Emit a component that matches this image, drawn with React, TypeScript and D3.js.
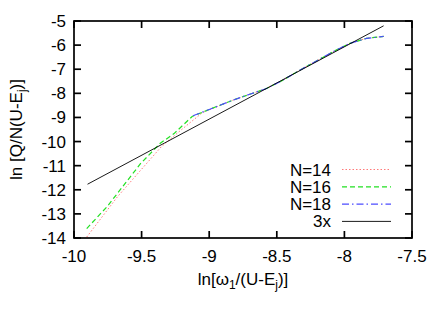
import * as d3 from "d3";

const WIDTH = 443;
const HEIGHT = 310;
const PLOT = { left: 74, right: 412, top: 21, bottom: 238 };

const X_TICKS = [-10, -9.5, -9, -8.5, -8, -7.5];
const Y_TICKS = [-14, -13, -12, -11, -10, -9, -8, -7, -6, -5];

// shared upper part (all sizes overlap there)
const upper: [number, number][] = [
  [-9.0, -8.67],
  [-8.823, -8.28],
  [-8.7, -8.04],
  [-8.576, -7.8],
  [-8.45, -7.44],
  [-8.33, -7.04],
  [-8.2, -6.64],
  [-8.083, -6.27],
  [-7.96, -5.93],
  [-7.837, -5.72],
  [-7.71, -5.64],
];

const n14: [number, number][] = [
  [-9.906, -13.96],
  [-9.68, -12.3],
  [-9.507, -11.19],
  [-9.355, -10.22],
  [-9.21, -9.53],
  [-9.05, -8.8],
  ...upper.slice(1),
];

const n16: [number, number][] = [
  [-9.906, -13.61],
  [-9.754, -12.69],
  [-9.507, -10.91],
  [-9.364, -10.08],
  [-9.26, -9.67],
  [-9.126, -8.96],
  ...upper,
];

const n18: [number, number][] = [[-9.12, -8.93], ...upper];

const fit3x: [number, number][] = [
  [-9.9, -11.77],
  [-7.71, -5.2],
];

const SERIES = [
  { label: "N=14", data: n14, color: "#ff7a7a", dash: "1.5,2", width: 1 },
  { label: "N=16", data: n16, color: "#22e022", dash: "5,3", width: 1.2 },
  { label: "N=18", data: n18, color: "#4c4cff", dash: "7,3,1.5,3", width: 1.2 },
  { label: "3x", data: fit3x, color: "#000000", dash: "", width: 0.9 },
];

const FONT = "'Liberation Sans', Arial, Helvetica, sans-serif";

export default function App() {
  const x = d3.scaleLinear().domain([-10, -7.5]).range([PLOT.left, PLOT.right]);
  const y = d3.scaleLinear().domain([-14, -5]).range([PLOT.bottom, PLOT.top]);
  const line = d3
    .line<[number, number]>()
    .x((d) => x(d[0]))
    .y((d) => y(d[1]));

  const tickLen = 7;

  return (
    <svg
      width={WIDTH}
      height={HEIGHT}
      style={{ position: "absolute", left: 0, top: 0, background: "#fff" }}
      fontFamily={FONT}
    >
      {/* series */}
      <g fill="none">
        {SERIES.map((s) => (
          <path
            key={s.label}
            d={line(s.data) ?? ""}
            stroke={s.color}
            strokeWidth={s.width}
            strokeDasharray={s.dash || undefined}
          />
        ))}
      </g>

      {/* frame and ticks */}
      <g stroke="#000" strokeWidth={1.7}>
        <rect
          x={PLOT.left}
          y={PLOT.top}
          width={PLOT.right - PLOT.left}
          height={PLOT.bottom - PLOT.top}
          fill="none"
        />
        {X_TICKS.map((t) => (
          <g key={t}>
            <line x1={x(t)} x2={x(t)} y1={PLOT.bottom} y2={PLOT.bottom - tickLen} />
            <line x1={x(t)} x2={x(t)} y1={PLOT.top} y2={PLOT.top + tickLen} />
          </g>
        ))}
        {Y_TICKS.map((t) => (
          <g key={t}>
            <line x1={PLOT.left} x2={PLOT.left + tickLen} y1={y(t)} y2={y(t)} />
            <line x1={PLOT.right} x2={PLOT.right - tickLen} y1={y(t)} y2={y(t)} />
          </g>
        ))}
      </g>

      {/* tick labels */}
      <g fontSize={17} fill="#000">
        {X_TICKS.map((t) => (
          <text key={t} x={x(t)} y={262} textAnchor="middle">
            {t}
          </text>
        ))}
        {Y_TICKS.map((t) => (
          <text key={t} x={66} y={y(t) + 6} textAnchor="end">
            {t}
          </text>
        ))}
      </g>

      {/* axis titles */}
      <text x={243} y={285} textAnchor="middle" fontSize={17}>
        ln[ω<tspan fontSize={12} dy={4}>1</tspan>
        <tspan dy={-4}>/(U-E</tspan>
        <tspan fontSize={12} dy={4}>j</tspan>
        <tspan dy={-4}>)]</tspan>
      </text>
      <text
        transform={`translate(22,${(PLOT.top + PLOT.bottom) / 2}) rotate(-90)`}
        textAnchor="middle"
        fontSize={17}
      >
        ln [Q/N(U-E<tspan fontSize={12} dy={4}>j</tspan>
        <tspan dy={-4}>)]</tspan>
      </text>

      {/* legend */}
      <g fontSize={17}>
        {SERIES.map((s, i) => {
          const ly = 169.5 + i * 17.3;
          return (
            <g key={s.label}>
              <text x={331} y={ly + 6} textAnchor="end">
                {s.label}
              </text>
              <line
                x1={342}
                x2={391}
                y1={ly}
                y2={ly}
                stroke={s.color}
                strokeWidth={s.width}
                strokeDasharray={s.dash || undefined}
              />
            </g>
          );
        })}
      </g>
    </svg>
  );
}
